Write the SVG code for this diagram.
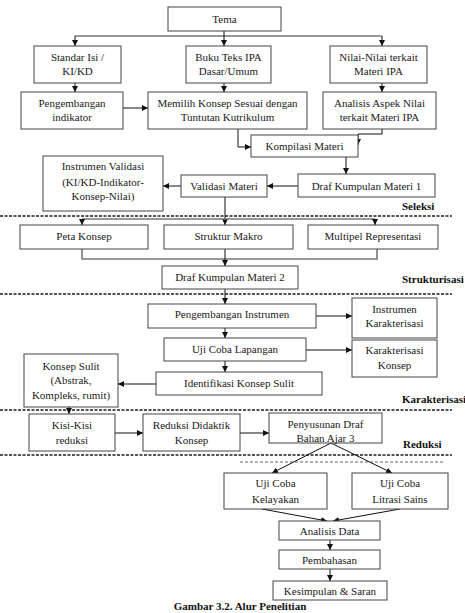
<svg xmlns="http://www.w3.org/2000/svg" width="465" height="613" viewBox="0 0 465 613">
<style>
.box{fill:#fff;stroke:#444;stroke-width:1}
.t{font-family:"Liberation Serif","Times New Roman",serif;font-size:11px;fill:#1a1a1a;text-anchor:middle}
.lbl{font-family:"Liberation Serif","Times New Roman",serif;font-size:11px;font-weight:bold;fill:#111}
.c{fill:none;stroke:#111;stroke-width:1}
.g{fill:none;stroke:#777;stroke-width:1.6}
.sep{fill:none;stroke:#555;stroke-width:2;stroke-dasharray:3 1.5}
.sep2{fill:none;stroke:#999;stroke-width:1.5;stroke-dasharray:3 2}
</style>
<defs>
<marker id="ar" markerUnits="userSpaceOnUse" markerWidth="7" markerHeight="6" refX="6" refY="3" orient="auto">
<path d="M0,0 L6,3 L0,6 Z" fill="#111"/>
</marker>
</defs>
<rect width="465" height="613" fill="#fff"/>
<g id="separators">
<line class="sep" x1="0" y1="216" x2="452" y2="216"/>
<line class="sep" x1="0" y1="294" x2="452" y2="294"/>
<line class="sep" x1="0" y1="410" x2="452" y2="410"/>
<line class="sep" x1="0" y1="455" x2="452" y2="455"/>
<line class="sep2" x1="240" y1="462" x2="443" y2="462"/>
<text class="lbl" x="402" y="210">Seleksi</text>
<text class="lbl" x="402" y="283">Strukturisasi</text>
<text class="lbl" x="402" y="403">Karakterisasi</text>
<text class="lbl" x="403" y="448">Reduksi</text>
</g>
<g id="connectors">
<path class="g" d="M75,36 H382"/>
<path class="c" d="M224,31 V46" marker-end="url(#ar)"/>
<path class="c" d="M75,36 V46" marker-end="url(#ar)"/>
<path class="c" d="M382,36 V46" marker-end="url(#ar)"/>
<path class="c" d="M75,83 V92" marker-end="url(#ar)"/>
<path class="c" d="M224,83 V92" marker-end="url(#ar)"/>
<path class="c" d="M382,83 V92" marker-end="url(#ar)"/>
<path class="c" d="M123,108 H148" marker-end="url(#ar)"/>
<path class="c" d="M238,129 V147 H251" marker-end="url(#ar)"/>
<path class="c" d="M382,129 V134 H358 V145" marker-end="url(#ar)"/>
<path class="c" d="M346,157 V174" marker-end="url(#ar)"/>
<path class="c" d="M298,186 H267" marker-end="url(#ar)"/>
<path class="c" d="M181,186 H163" marker-end="url(#ar)"/>
<path class="c" d="M225,188 V225" marker-end="url(#ar)"/>
<path class="g" d="M82,219 H375"/>
<path class="c" d="M82,219 V225" marker-end="url(#ar)"/>
<path class="c" d="M375,219 V225" marker-end="url(#ar)"/>
<path class="g" d="M82,249 V259 H377 V249"/>
<path class="c" d="M225,249 V266" marker-end="url(#ar)"/>
<path class="c" d="M225,289 V304" marker-end="url(#ar)"/>
<path class="c" d="M316,316 H352" marker-end="url(#ar)"/>
<path class="c" d="M225,328 V338" marker-end="url(#ar)"/>
<path class="c" d="M306,350 H352" marker-end="url(#ar)"/>
<path class="c" d="M225,361 V372" marker-end="url(#ar)"/>
<path class="c" d="M156,384 H118" marker-end="url(#ar)"/>
<path class="c" d="M69,407 V414" marker-end="url(#ar)"/>
<path class="c" d="M115,433 H143" marker-end="url(#ar)"/>
<path class="c" d="M240,433 H269" marker-end="url(#ar)"/>
<path class="c" d="M331,443 L272,473" marker-end="url(#ar)"/>
<path class="c" d="M331,443 L392,473" marker-end="url(#ar)"/>
<path class="c" d="M262,509 L327,521" marker-end="url(#ar)"/>
<path class="c" d="M400,509 L333,521" marker-end="url(#ar)"/>
<path class="c" d="M330,540 V550" marker-end="url(#ar)"/>
<path class="c" d="M330,569 V581" marker-end="url(#ar)"/>
</g>
<g id="tema"><rect class="box" x="168" y="7" width="113" height="24"/><text class="t" x="224.5" y="23">Tema</text></g>
<g id="standar"><rect class="box" x="34" y="46" width="87" height="37"/><text class="t" x="77.5" y="61">Standar Isi /</text><text class="t" x="77.5" y="75">KI/KD</text></g>
<g id="buku"><rect class="box" x="186" y="46" width="85" height="37"/><text class="t" x="228.5" y="61">Buku Teks IPA</text><text class="t" x="228.5" y="75">Dasar/Umum</text></g>
<g id="nilai"><rect class="box" x="330" y="46" width="97" height="37"/><text class="t" x="378.5" y="61">Nilai-Nilai terkait</text><text class="t" x="378.5" y="75">Materi IPA</text></g>
<g id="pengembangan"><rect class="box" x="21" y="92" width="102" height="37"/><text class="t" x="72" y="107">Pengembangan</text><text class="t" x="72" y="121">indikator</text></g>
<g id="memilih"><rect class="box" x="148" y="92" width="159" height="37"/><text class="t" x="227.5" y="107">Memilih Konsep Sesuai dengan</text><text class="t" x="227.5" y="121">Tuntutan Kutrikulum</text></g>
<g id="analisis"><rect class="box" x="323" y="92" width="113" height="37"/><text class="t" x="379.5" y="107">Analisis Aspek Nilai</text><text class="t" x="379.5" y="121">terkait Materi IPA</text></g>
<g id="kompilasi"><rect class="box" x="251" y="135" width="107" height="22"/><text class="t" x="304.5" y="150">Kompilasi Materi</text></g>
<g id="draf1"><rect class="box" x="298" y="174" width="137" height="23"/><text class="t" x="366.5" y="190">Draf Kumpulan Materi 1</text></g>
<g id="validasi"><rect class="box" x="181" y="175" width="86" height="22"/><text class="t" x="224" y="190">Validasi Materi</text></g>
<g id="instrumen-validasi"><rect class="box" x="43" y="156" width="120" height="55"/><text class="t" x="103" y="170">Instrumen Validasi</text><text class="t" x="103" y="186">(KI/KD-Indikator-</text><text class="t" x="103" y="200">Konsep-Nilai)</text></g>
<g id="peta"><rect class="box" x="20" y="225" width="128" height="24"/><text class="t" x="84" y="240">Peta Konsep</text></g>
<g id="struktur"><rect class="box" x="164" y="225" width="129" height="24"/><text class="t" x="228.5" y="240">Struktur Makro</text></g>
<g id="multipel"><rect class="box" x="308" y="225" width="130" height="24"/><text class="t" x="373" y="240">Multipel Representasi</text></g>
<g id="draf2"><rect class="box" x="162" y="266" width="136" height="23"/><text class="t" x="230" y="281">Draf Kumpulan Materi 2</text></g>
<g id="pengembangan-instrumen"><rect class="box" x="148" y="304" width="168" height="24"/><text class="t" x="232" y="318">Pengembangan Instrumen</text></g>
<g id="instrumen-karakterisasi"><rect class="box" x="352" y="298" width="85" height="40"/><text class="t" x="394.5" y="313">Instrumen</text><text class="t" x="394.5" y="327">Karakterisasi</text></g>
<g id="uji-lapangan"><rect class="box" x="164" y="338" width="142" height="23"/><text class="t" x="235" y="353">Uji Coba Lapangan</text></g>
<g id="karakterisasi-konsep"><rect class="box" x="352" y="340" width="85" height="37"/><text class="t" x="394.5" y="354">Karakterisasi</text><text class="t" x="394.5" y="369">Konsep</text></g>
<g id="identifikasi"><rect class="box" x="156" y="372" width="166" height="23"/><text class="t" x="239" y="387">Identifikasi Konsep Sulit</text></g>
<g id="konsep-sulit"><rect class="box" x="24" y="354" width="94" height="53"/><text class="t" x="71" y="370">Konsep Sulit</text><text class="t" x="71" y="384">(Abstrak,</text><text class="t" x="71" y="399">Kompleks, rumit)</text></g>
<g id="kisi"><rect class="box" x="29" y="414" width="86" height="37"/><text class="t" x="72" y="429">Kisi-Kisi</text><text class="t" x="72" y="444">reduksi</text></g>
<g id="reduksi-didaktik"><rect class="box" x="143" y="414" width="97" height="37"/><text class="t" x="191.5" y="429">Reduksi Didaktik</text><text class="t" x="191.5" y="444">Konsep</text></g>
<g id="penyusunan"><rect class="box" x="269" y="413" width="113" height="30"/><text class="t" x="325.5" y="428">Penyusunan Draf</text><text class="t" x="325.5" y="442">Bahan Ajar 3</text></g>
<g id="uji-kelayakan"><rect class="box" x="224" y="473" width="103" height="36"/><text class="t" x="275.5" y="487">Uji Coba</text><text class="t" x="275.5" y="503">Kelayakan</text></g>
<g id="uji-litrasi"><rect class="box" x="352" y="473" width="96" height="36"/><text class="t" x="400" y="487">Uji Coba</text><text class="t" x="400" y="503">Litrasi Sains</text></g>
<g id="analisis-data"><rect class="box" x="279" y="521" width="101" height="19"/><text class="t" x="329.5" y="535">Analisis Data</text></g>
<g id="pembahasan"><rect class="box" x="279" y="550" width="101" height="19"/><text class="t" x="329.5" y="564">Pembahasan</text></g>
<g id="kesimpulan"><rect class="box" x="273" y="581" width="114" height="19"/><text class="t" x="330" y="595">Kesimpulan &amp; Saran</text></g>
<text class="lbl" x="240" y="610" text-anchor="middle" font-size="10">Gambar 3.2. Alur Penelitian</text>
</svg>
